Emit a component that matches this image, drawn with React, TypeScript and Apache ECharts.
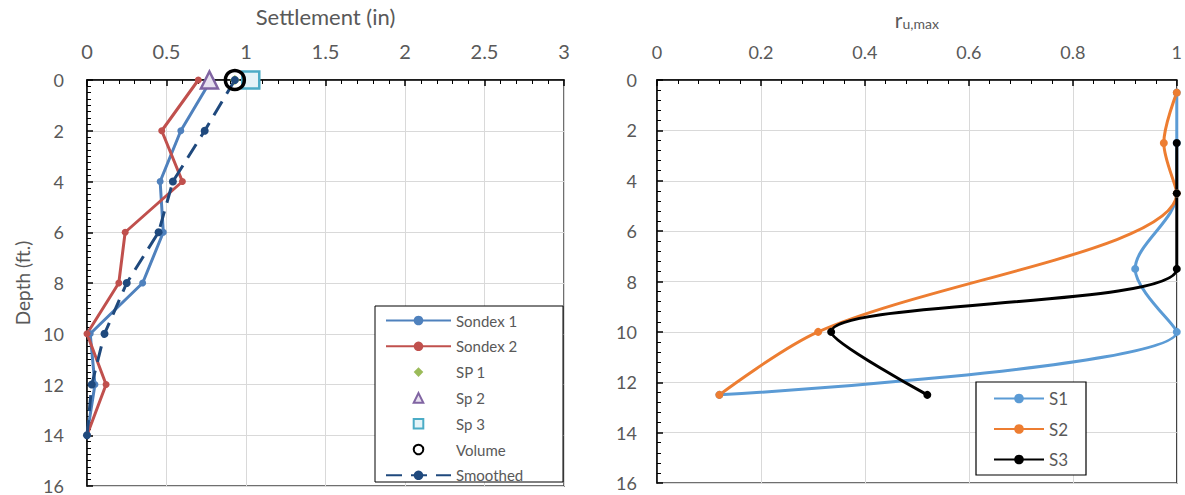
import React, { useEffect, useRef } from "react";
import * as echarts from "echarts";

// ---------- Left chart data (Settlement vs depth) ----------
const leftDepths = [0, 2, 4, 6, 8, 10, 12, 14];
const sondex1 = [0.78, 0.59, 0.46, 0.48, 0.35, 0.02, 0.05, 0];
const sondex2 = [0.7, 0.47, 0.6, 0.24, 0.2, 0, 0.12, 0];
const smoothedVals = [0.93, 0.74, 0.54, 0.45, 0.25, 0.11, 0.03, 0];
const sp1Point = [0.93, 0];
const sp2Point = [0.77, 0];
const sp3Point = [1.03, 0];
const volumePoint = [0.93, 0];

// ---------- Right chart data (r_u,max vs depth) ----------
const s1Depths = [0.5, 2.5, 4.5, 7.5, 10, 12.5];
const s1Vals = [1, 1, 1, 0.92, 1, 0.12];
const s2Depths = [0.5, 2.5, 4.5, 10, 12.5];
const s2Vals = [1, 0.975, 1, 0.31, 0.12];
const s3Depths = [2.5, 4.5, 7.5, 10, 12.5];
const s3Vals = [1, 1, 1, 0.335, 0.52];

const FONT = "Lato, 'Open Sans', sans-serif";
const TXT = "#595959";
const GRIDC = "#d9d9d9";

const pairs = (xs: number[], ds: number[]) => ds.map((d, i) => [xs[i], d]);

export default function App() {
  const ref = useRef<HTMLDivElement>(null);
  useEffect(() => {
    if (!ref.current) return;
    const chart = echarts.init(ref.current, undefined, { renderer: "svg" });

    const axisCommonX = (gi: number, max: number, interval: number, labelSize: number, extra: any) => ({
      gridIndex: gi,
      type: "value",
      position: "top",
      min: 0,
      max,
      interval,
      axisLine: { show: true, onZero: false, lineStyle: { color: "#000", width: 1.5 } },
      axisTick: { show: true, inside: true, length: 6, lineStyle: { color: "#000", width: 1.5 } },
      minorTick: { show: true, splitNumber: 5, length: 4, lineStyle: { color: "#000", width: 1 } },
      axisLabel: {
        fontSize: labelSize,
        color: TXT,
        fontFamily: FONT,
        margin: 19,
        showMinLabel: true,
        showMaxLabel: true,
        formatter: (v: number) => String(Math.round(v * 100) / 100),
      },
      splitLine: { show: true, lineStyle: { color: GRIDC, width: 1 } },
      ...extra,
    });

    const axisCommonY = (gi: number, minorSplit: number, margin: number, extra: any) => ({
      gridIndex: gi,
      type: "value",
      inverse: true,
      min: 0,
      max: 16,
      interval: 2,
      axisLine: { show: true, onZero: false, lineStyle: { color: "#000", width: 1.5 } },
      axisTick: { show: true, inside: true, length: 6, lineStyle: { color: "#000", width: 1.5 } },
      minorTick: { show: true, splitNumber: minorSplit, length: 4, lineStyle: { color: "#000", width: 1 } },
      axisLabel: { fontSize: 18, color: TXT, fontFamily: FONT, margin, showMinLabel: true, showMaxLabel: true },
      splitLine: { show: true, lineStyle: { color: GRIDC, width: 1 } },
      ...extra,
    });

    const markerSeries = (name: string, point: number[], symbol: string, size: number, itemStyle: any, z = 3) => ({
      name,
      type: "line",
      xAxisIndex: 0,
      yAxisIndex: 0,
      data: [point],
      symbol,
      symbolSize: size,
      showSymbol: true,
      lineStyle: { width: 0, opacity: 0 },
      itemStyle,
      z,
    });

    const option: any = {
      animation: false,
      backgroundColor: "#fff",
      textStyle: { fontFamily: FONT },
      grid: [
        { left: 87, top: 80, width: 477, height: 410, show: true, borderColor: "#404040", borderWidth: 1.5 },
        { left: 657, top: 80, width: 523, height: 403, show: true, borderColor: "#404040", borderWidth: 1.5 },
      ],
      xAxis: [
        axisCommonX(0, 3, 0.5, 20, {
          name: "Settlement (in)",
          nameLocation: "middle",
          nameGap: 53,
          nameTextStyle: { fontSize: 22, color: TXT, fontFamily: FONT },
        }),
        axisCommonX(1, 1, 0.2, 18, {
          name: "{r|r}{s|u,max}",
          nameLocation: "middle",
          nameGap: 50,
          nameTextStyle: {
            color: TXT,
            fontFamily: FONT,
            rich: {
              r: { fontSize: 21, color: TXT, fontFamily: FONT },
              s: { fontSize: 14, color: TXT, fontFamily: FONT, padding: [8, 0, 0, 0] },
            },
          },
        }),
      ],
      yAxis: [
        axisCommonY(0, 8, 23, {
          name: "Depth (ft.)",
          nameLocation: "middle",
          nameGap: 55,
          nameRotate: 90,
          nameTextStyle: { fontSize: 19, color: TXT, fontFamily: FONT },
        }),
        axisCommonY(1, 5, 20, {}),
      ],
      graphic: {
        elements: [
          {
            type: "rect",
            shape: { x: 375, y: 306, width: 188, height: 176 },
            style: { fill: "#fff", stroke: "#000", lineWidth: 1 },
            z: 100,
          },
          {
            type: "rect",
            shape: { x: 976, y: 382, width: 110, height: 93 },
            style: { fill: "#fff", stroke: "#000", lineWidth: 1.2 },
            z: 100,
          },
        ],
      },
      legend: [
        {
          orient: "vertical",
          left: 385,
          top: 313,
          height: 180,
          padding: 0,
          itemWidth: 65,
          itemHeight: 12,
          itemGap: 10.8,
          z: 110,
          textStyle: { fontSize: 15, color: TXT, fontFamily: FONT },
          data: ["Sondex 1", "Sondex 2", "SP 1", "Sp 2", "Sp 3", "Volume", "Smoothed"],
        },
        {
          orient: "vertical",
          left: 993,
          top: 390,
          height: 90,
          padding: 0,
          itemWidth: 50,
          itemHeight: 12,
          itemGap: 13.5,
          z: 110,
          textStyle: { fontSize: 17, color: TXT, fontFamily: FONT },
          data: ["S1", "S2", "S3"],
        },
      ],
      series: [
        {
          name: "Sondex 1",
          type: "line",
          xAxisIndex: 0,
          yAxisIndex: 0,
          data: pairs(sondex1, leftDepths),
          symbol: "circle",
          symbolSize: 7,
          lineStyle: { width: 3, color: "#4F81BD" },
          itemStyle: { color: "#4F81BD" },
        },
        {
          name: "Sondex 2",
          type: "line",
          xAxisIndex: 0,
          yAxisIndex: 0,
          data: pairs(sondex2, leftDepths),
          symbol: "circle",
          symbolSize: 7,
          lineStyle: { width: 3, color: "#C0504D" },
          itemStyle: { color: "#C0504D" },
        },
        markerSeries("SP 1", sp1Point, "diamond", 10, { color: "#9BBB59" }),
        markerSeries("Sp 2", sp2Point, "triangle", 17, { color: "#e8e2f0", borderColor: "#8064A2", borderWidth: 2.5 }),
        markerSeries("Sp 3", sp3Point, "rect", 17, { color: "#e4f4f8", borderColor: "#4BACC6", borderWidth: 2.5 }),
        markerSeries("Volume", volumePoint, "circle", 19, { color: "rgba(255,255,255,0)", borderColor: "#000", borderWidth: 3.5 }, 5),
        {
          name: "Smoothed",
          type: "line",
          xAxisIndex: 0,
          yAxisIndex: 0,
          data: pairs(smoothedVals, leftDepths),
          symbol: "circle",
          symbolSize: 8,
          lineStyle: { width: 3, color: "#1F497D", type: [16, 9] },
          itemStyle: { color: "#1F497D" },
        },
        {
          name: "S1",
          type: "line",
          xAxisIndex: 1,
          yAxisIndex: 1,
          data: pairs(s1Vals, s1Depths),
          smooth: 0.33,
          symbol: "circle",
          symbolSize: 8,
          lineStyle: { width: 3, color: "#5B9BD5" },
          itemStyle: { color: "#5B9BD5" },
        },
        {
          name: "S2",
          type: "line",
          xAxisIndex: 1,
          yAxisIndex: 1,
          data: pairs(s2Vals, s2Depths),
          smooth: 0.33,
          symbol: "circle",
          symbolSize: 8,
          lineStyle: { width: 3, color: "#ED7D31" },
          itemStyle: { color: "#ED7D31" },
        },
        {
          name: "S3",
          type: "line",
          xAxisIndex: 1,
          yAxisIndex: 1,
          data: pairs(s3Vals, s3Depths),
          smooth: 0.33,
          symbol: "circle",
          symbolSize: 8,
          lineStyle: { width: 3, color: "#000000" },
          itemStyle: { color: "#000000" },
        },
      ],
    };

    chart.setOption(option);
    return () => chart.dispose();
  }, []);

  return (
    <div
      ref={ref}
      style={{ position: "absolute", left: 0, top: 0, width: 1185, height: 495, background: "#fff" }}
    />
  );
}
